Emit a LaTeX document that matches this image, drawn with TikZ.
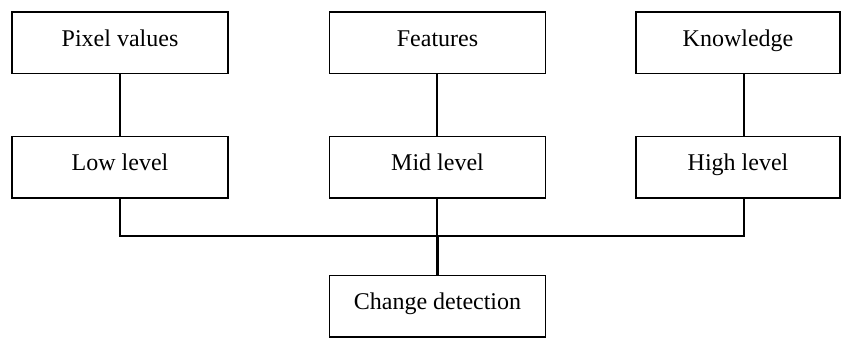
\documentclass[tikz,border=0pt]{standalone}
\usepackage{fontspec}
\setmainfont{Liberation Serif}
\begin{document}
\begin{tikzpicture}[x=1pt,y=-1pt,
  box/.style={draw=black,line width=1.5pt,rectangle,inner sep=0pt,
    minimum height=61.5pt,text height=17pt,text depth=10pt,
    font=\fontsize{24}{28}\selectfont},
  wA/.style={minimum width=216pt},
  wC/.style={minimum width=204pt},
  link/.style={draw=black,line width=1.2pt},
  thick link/.style={draw=black,line width=3pt}]
\useasboundingbox (0,0) rectangle (841,338);
\node[box,wA] (pv) at (120,42.5) {Pixel values};
\node[box,wA] (ft) at (437.5,42.5) {Features};
\node[box,wC] (kn) at (738,42.5) {Knowledge};
\node[box,wA] (lo) at (120,167) {Low level};
\node[box,wA] (mi) at (437.5,167) {Mid level};
\node[box,wC] (hi) at (738,167) {High level};
\node[box,wA] (cd) at (437.5,306) {Change detection};
\coordinate (xl) at (120,0);
\coordinate (xm) at (437,0);
\coordinate (xh) at (744,0);
\coordinate (jl) at (120,236);
\coordinate (jm) at (437,236);
\coordinate (jh) at (744,236);
\draw[link] (pv.south -| xl) -- (lo.north -| xl);
\draw[link] (ft.south -| xm) -- (mi.north -| xm);
\draw[link] (kn.south -| xh) -- (hi.north -| xh);
\draw[link] (lo.south -| xl) -- (jl) -- (jh) -- (hi.south -| xh);
\draw[link] (mi.south -| xm) -- (jm);
\draw[thick link] (jm) -- (cd.north -| xm);
\end{tikzpicture}
\end{document}
